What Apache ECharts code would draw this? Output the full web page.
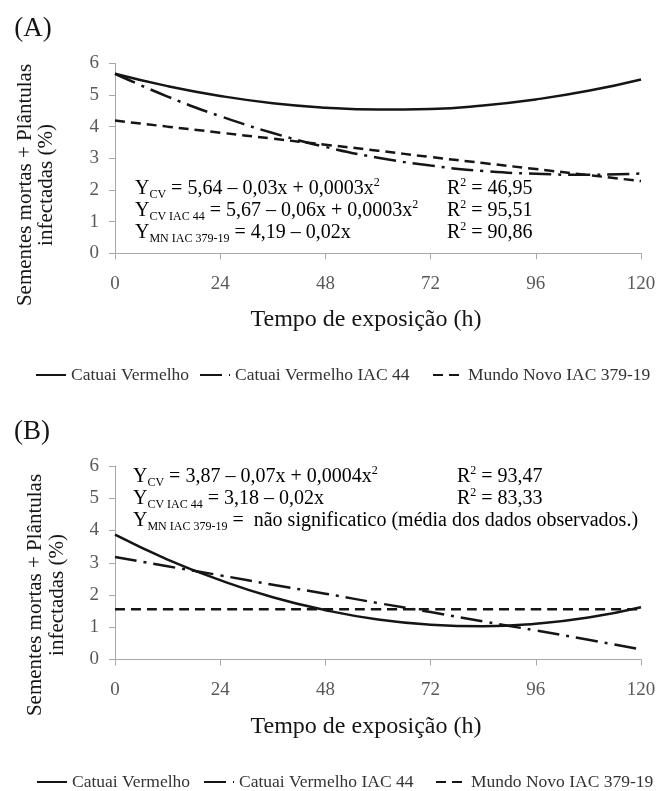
<!DOCTYPE html>
<html><head><meta charset="utf-8">
<script src="https://cdn.jsdelivr.net/npm/echarts@6/dist/echarts.min.js"></script>
<style>html,body{margin:0;padding:0;background:#fff}#c{width:663px;height:791px}</style>
</head><body><div id="c"></div>
<script>
// ---- data ----
const hours = [0, 12, 24, 36, 48, 60, 72, 84, 96, 108, 120];
const xTicks = [0, 24, 48, 72, 96, 120];
const seriesNames = ['Catuai Vermelho', 'Catuai Vermelho IAC 44', 'Mundo Novo IAC 379-19'];
// Panel A
const cvA   = [5.67, 5.28, 4.97, 4.74, 4.60, 4.54, 4.56, 4.67, 4.86, 5.13, 5.49];
const cv44A = [5.67, 4.95, 4.33, 3.80, 3.36, 3.02, 2.77, 2.60, 2.51, 2.48, 2.52];
const mnA   = [4.19, 4.00, 3.81, 3.62, 3.43, 3.24, 3.04, 2.85, 2.66, 2.47, 2.28];
// Panel B
const cvB   = [3.87, 3.10, 2.46, 1.93, 1.53, 1.24, 1.08, 1.03, 1.11, 1.30, 1.62];
const cv44B = [3.18, 2.89, 2.61, 2.32, 2.04, 1.75, 1.47, 1.18, 0.90, 0.61, 0.31];
const mnB   = [1.56, 1.56, 1.56, 1.56, 1.56, 1.56, 1.56, 1.56, 1.56, 1.56, 1.56];

const SERIF = '"Liberation Serif","Times New Roman",serif';
const INK = '#151515';
const pairs = arr => hours.map((h, i) => [h, arr[i]]);
const styles = [
  {type: 'solid', width: 2.5, color: INK},
  {type: [22, 7, 3, 7], width: 2.5, color: INK},
  {type: [10, 6], width: 2.5, color: INK}
];
function mkSeries(data, k, gi) {
  return {type: 'line', name: seriesNames[k], xAxisIndex: gi, yAxisIndex: gi,
    data: pairs(data), smooth: true, symbol: 'none', showSymbol: false, lineStyle: styles[k],
    itemStyle: {color: INK}, z: 3 - k, animation: false};
}
function xAx(gi) {
  return {type: 'value', gridIndex: gi, min: 0, max: 120, interval: 24,
    axisLine: {lineStyle: {color: '#a8a8a8', width: 1}},
    axisTick: {length: 6, lineStyle: {color: '#a8a8a8'}},
    axisLabel: {margin: 21, fontFamily: SERIF, fontSize: 19, color: '#595959'},
    splitLine: {show: false}};
}
function yAx(gi) {
  return {type: 'value', gridIndex: gi, min: 0, max: 6, interval: 1,
    axisLine: {show: true, lineStyle: {color: '#a8a8a8', width: 1}},
    axisTick: {show: true, length: 6, lineStyle: {color: '#a8a8a8'}},
    axisLabel: {margin: 16, fontFamily: SERIF, fontSize: 19, color: '#595959'},
    splitLine: {show: false}};
}
const rich = {
  m: {fontFamily: SERIF, fontSize: 20, color: INK, lineHeight: 24},
  s: {fontFamily: SERIF, fontSize: 12, color: INK, lineHeight: 14, verticalAlign: 'bottom'},
  p: {fontFamily: SERIF, fontSize: 12, color: INK, lineHeight: 14, verticalAlign: 'top'}
};
function txt(x, y, text) {
  return {type: 'text', x: x, y: y, silent: true,
    style: {text: text, rich: rich, textAlign: 'left', align: 'left',
      textVerticalAlign: 'middle', verticalAlign: 'middle'}};
}
function plain(x, y, text, size, rot, color) {
  return {type: 'text', x: x, y: y, rotation: rot || 0, silent: true,
    style: {text: text, font: size + 'px ' + SERIF, fill: color || INK,
      textAlign: 'center', align: 'center', textVerticalAlign: 'middle', verticalAlign: 'middle'}};
}
const eqA = [
  '{m|Y}{s|CV}{m| = 5,64 – 0,03x + 0,0003x}{p|2}',
  '{m|Y}{s|CV IAC 44}{m| = 5,67 – 0,06x + 0,0003x}{p|2}',
  '{m|Y}{s|MN IAC 379-19}{m| = 4,19 – 0,02x}'
];
const r2A = ['46,95', '95,51', '90,86'];
const eqB = [
  '{m|Y}{s|CV}{m| = 3,87 – 0,07x + 0,0004x}{p|2}',
  '{m|Y}{s|CV IAC 44}{m| = 3,18 – 0,02x}',
  '{m|Y}{s|MN IAC 379-19}{m| =  não significatico (média dos dados observados.)}'
];
const r2B = ['93,47', '83,33'];
const rowsA = [189, 210.5, 232.5];
const rowsB = [477, 499, 521];

const graphics = [
  plain(33, 29, '(A)', 27),
  plain(32, 432, '(B)', 27),
  plain(25, 185, 'Sementes mortas + Plântulas', 21, Math.PI / 2),
  plain(46, 185, 'infectadas (%)', 21, Math.PI / 2),
  plain(35, 595, 'Sementes mortas + Plântulas', 21, Math.PI / 2),
  plain(57, 595, 'infectadas (%)', 21, Math.PI / 2),
  plain(366, 320, 'Tempo de exposição (h)', 24),
  plain(366, 727, 'Tempo de exposição (h)', 24)
];
eqA.forEach((e, i) => graphics.push(txt(135, rowsA[i], e)));
r2A.forEach((r, i) => graphics.push(txt(447, rowsA[i], '{m|R}{p|2}{m| = ' + r + '}')));
eqB.forEach((e, i) => graphics.push(txt(133, rowsB[i], e)));
r2B.forEach((r, i) => graphics.push(txt(457, rowsB[i], '{m|R}{p|2}{m| = ' + r + '}')));

// one legend component per entry so each entry sits where the reference puts it
const legendLefts = [[30, 194, 427], [31, 198, 430]];
const legendTops = [361, 768];
const legends = [];
legendLefts.forEach((row, p) => row.forEach((lx, k) => legends.push({
  left: lx, top: legendTops[p], itemWidth: 30, itemHeight: 14,
  textStyle: {fontFamily: SERIF, fontSize: 17.5, color: '#333'},
  itemStyle: {opacity: 0}, selectedMode: false, data: [seriesNames[k]]
})));

const option = {
  backgroundColor: '#fff',
  animation: false,
  grid: [
    {left: 115, top: 63.3, width: 526, height: 190},
    {left: 115, top: 466, width: 526, height: 193.5}
  ],
  xAxis: [xAx(0), xAx(1)],
  yAxis: [yAx(0), yAx(1)],
  legend: legends,
  series: [
    mkSeries(cvA, 0, 0), mkSeries(cv44A, 1, 0), mkSeries(mnA, 2, 0),
    mkSeries(cvB, 0, 1), mkSeries(cv44B, 1, 1), mkSeries(mnB, 2, 1)
  ],
  graphic: graphics
};
const chart = echarts.init(document.getElementById('c'));
chart.setOption(option);
</script>
</body></html>
